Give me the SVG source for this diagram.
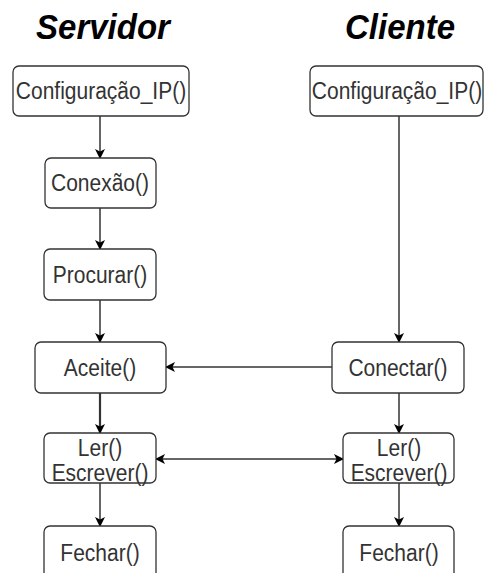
<svg xmlns="http://www.w3.org/2000/svg" width="484" height="573" viewBox="0 0 484 573">
<defs>
<style>
.box{fill:#fff;stroke:#333;stroke-width:1.3}
.lbl{font-family:"Liberation Sans",Arial,sans-serif;font-size:21px;fill:#333;text-anchor:middle}
.title{font-family:"Liberation Sans",Arial,sans-serif;font-size:33px;font-weight:bold;font-style:italic;fill:#000;text-anchor:middle}
.edge{fill:none;stroke:#333;stroke-width:1.5}
</style>
<marker id="ah" viewBox="0 0 10 10" refX="9" refY="5" markerWidth="10" markerHeight="10" markerUnits="userSpaceOnUse" orient="auto-start-reverse">
<path d="M0,0 L10,5 L0,10 L2.5,5 Z" fill="#000"/>
</marker>
</defs>
<rect width="484" height="573" fill="#fff"/>
<text class="title" transform="translate(103,39) scale(1,1.05)">Servidor</text>
<text class="title" transform="translate(400,39) scale(1,1.05)">Cliente</text>
<g id="edges">
<line class="edge" x1="100" y1="116" x2="100" y2="158" marker-end="url(#ah)"/>
<line class="edge" x1="100" y1="208" x2="100" y2="249" marker-end="url(#ah)"/>
<line class="edge" x1="100" y1="300" x2="100" y2="342" marker-end="url(#ah)"/>
<line class="edge" x1="100" y1="393" x2="100" y2="433" marker-end="url(#ah)" style="stroke-width:2.2"/>
<line class="edge" x1="100" y1="483" x2="100" y2="526" marker-end="url(#ah)"/>
<line class="edge" x1="399" y1="116" x2="399" y2="342" marker-end="url(#ah)"/>
<line class="edge" x1="399" y1="393" x2="399" y2="433" marker-end="url(#ah)"/>
<line class="edge" x1="399" y1="483" x2="399" y2="526" marker-end="url(#ah)"/>
<line class="edge" x1="332" y1="367" x2="166" y2="367" marker-end="url(#ah)"/>
<line class="edge" x1="156" y1="459" x2="343" y2="459" marker-start="url(#ah)" marker-end="url(#ah)"/>
</g>
<g id="s-config"><rect class="box" x="13" y="66" width="176" height="50" rx="6"/><text class="lbl" transform="translate(101,99) scale(1,1.15)">Configuração_IP()</text></g>
<g id="s-conexao"><rect class="box" x="45" y="158" width="111" height="50" rx="6"/><text class="lbl" transform="translate(100,191) scale(1,1.15)">Conexão()</text></g>
<g id="s-procurar"><rect class="box" x="44" y="249" width="112" height="51" rx="6"/><text class="lbl" transform="translate(100,283) scale(1,1.15)">Procurar()</text></g>
<g id="s-aceite"><rect class="box" x="35" y="342" width="131" height="51" rx="6"/><text class="lbl" transform="translate(100,376) scale(1,1.15)">Aceite()</text></g>
<g id="s-ler"><rect class="box" x="44" y="433" width="112" height="50" rx="6"/><text class="lbl" transform="translate(100,456) scale(1,1.15)">Ler()</text><text class="lbl" transform="translate(100,481) scale(1,1.15)">Escrever()</text></g>
<g id="s-fechar"><rect class="box" x="44" y="526" width="112" height="60" rx="6"/><text class="lbl" transform="translate(100,561) scale(1,1.15)">Fechar()</text></g>
<g id="c-config"><rect class="box" x="310" y="66" width="173" height="50" rx="6"/><text class="lbl" transform="translate(397,99) scale(1,1.15)">Configuração_IP()</text></g>
<g id="c-conectar"><rect class="box" x="332" y="342" width="132" height="51" rx="6"/><text class="lbl" transform="translate(398,376) scale(1,1.15)">Conectar()</text></g>
<g id="c-ler"><rect class="box" x="343" y="433" width="111" height="50" rx="6"/><text class="lbl" transform="translate(399,456) scale(1,1.15)">Ler()</text><text class="lbl" transform="translate(399,481) scale(1,1.15)">Escrever()</text></g>
<g id="c-fechar"><rect class="box" x="343" y="526" width="111" height="60" rx="6"/><text class="lbl" transform="translate(399,561) scale(1,1.15)">Fechar()</text></g>
</svg>
